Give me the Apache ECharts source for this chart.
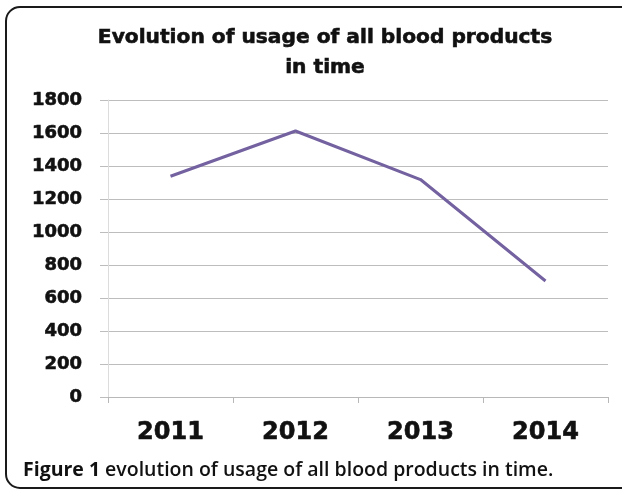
<!DOCTYPE html>
<html>
<head>
<meta charset="utf-8">
<script src="https://cdn.jsdelivr.net/npm/echarts@6/dist/echarts.min.js"></script>
<style>
  html, body { margin: 0; padding: 0; background: #fff; }
  #chart { width: 622px; height: 490px; }
</style>
</head>
<body>
<div id="chart"></div>
<script>
// Yearly totals of blood products used
const years = ['2011', '2012', '2013', '2014'];
const usage = [1338, 1612, 1318, 703];
const yTicks = { min: 0, max: 1800, step: 200 };

const titleText = 'Evolution of usage of all blood products\nin time';
const captionLabel = 'Figure 1';
const captionText = 'evolution of usage of all blood products in time.';

const heavy = { fontFamily: 'DejaVu Sans', fontWeight: 'bold', color: '#111', textBorderColor: '#111', textBorderWidth: 0.6 };

const chart = echarts.init(document.getElementById('chart'), null, { renderer: 'canvas' });

chart.setOption({
  backgroundColor: '#ffffff',
  animation: false,
  title: [
    {
      text: titleText,
      left: 320,
      top: 18,
      textAlign: 'center',
      textStyle: Object.assign({}, heavy, { fontSize: 20.2, lineHeight: 30 })
    },
    {
      text: '{b|' + captionLabel + '} {n|' + captionText + '}',
      left: 18,
      top: 455,
      textStyle: {
        rich: {
          b: { fontFamily: 'Open Sans', fontWeight: 700, fontSize: 19.5, color: '#111' },
          n: { fontFamily: 'Open Sans', fontWeight: 600, fontSize: 19.5, color: '#111' }
        }
      }
    }
  ],
  graphic: [
    {
      type: 'rect',
      shape: { x: 6, y: 7, width: 700, height: 481, r: 14 },
      style: { fill: 'none', stroke: '#1a1a1a', lineWidth: 2 },
      silent: true,
      z: 10
    }
  ],
  grid: { left: 108, right: 14, top: 100, bottom: 93, containLabel: false },
  xAxis: {
    type: 'category',
    data: years,
    boundaryGap: true,
    axisLine: { show: true, lineStyle: { color: '#b8b8b8', width: 1 } },
    axisTick: { show: true, alignWithLabel: false, length: 6, lineStyle: { color: '#b8b8b8' } },
    axisLabel: Object.assign({}, heavy, { margin: 24, fontSize: 24 }),
    splitLine: { show: false }
  },
  yAxis: {
    type: 'value',
    min: yTicks.min,
    max: yTicks.max,
    interval: yTicks.step,
    axisLine: { show: true, lineStyle: { color: '#dcdcdc', width: 1 } },
    axisTick: { show: true, length: 8, lineStyle: { color: '#bdbdbd' } },
    axisLabel: Object.assign({}, heavy, {
      margin: 26,
      fontSize: 18,
      formatter: function (v) { return String(v); }
    }),
    splitLine: { show: true, lineStyle: { color: '#bdbdbd', width: 1 } }
  },
  series: [
    {
      type: 'line',
      data: usage,
      showSymbol: false,
      symbol: 'none',
      lineStyle: { color: '#7361a0', width: 3 },
      itemStyle: { color: '#7361a0' }
    }
  ]
});
</script>
</body>
</html>
